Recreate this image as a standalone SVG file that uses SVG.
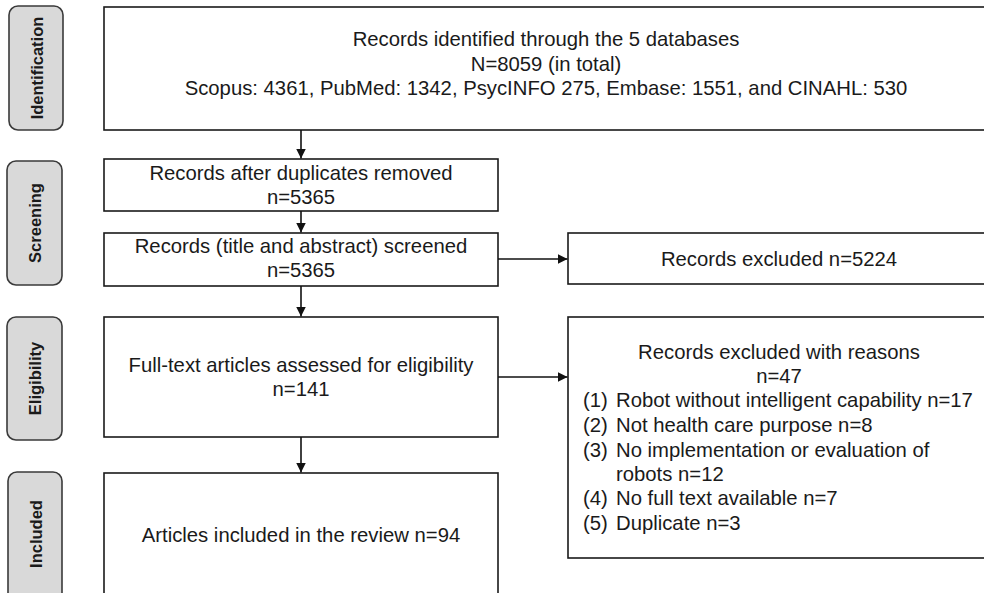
<svg xmlns="http://www.w3.org/2000/svg" width="984" height="593" viewBox="0 0 984 593">
  <defs>
    <marker id="arrow" viewBox="0 0 10 10" refX="10" refY="5" markerWidth="10" markerHeight="10" markerUnits="userSpaceOnUse" orient="auto">
      <path d="M0,0 L10,5 L0,10 Z" fill="#111"/>
    </marker>
    <style>
      .box { fill: #fff; stroke: #1a1a1a; stroke-width: 1.6; }
      .phase { fill: #d9d9d9; stroke: #3a3a3a; stroke-width: 1.6; }
      .txt { font-family: "Liberation Sans", Arial, sans-serif; font-size: 20.3px; fill: #1a1a1a; }
      .mid { text-anchor: middle; }
      .ptxt { font-family: "Liberation Sans", Arial, sans-serif; font-size: 16.5px; font-weight: bold; fill: #1a1a1a; text-anchor: middle; }
      .conn { stroke: #111; stroke-width: 1.6; fill: none; marker-end: url(#arrow); }
    </style>
  </defs>

  <rect width="984" height="593" fill="#fff"/>

  <!-- phase labels on the left -->
  <g id="phase-identification">
    <rect class="phase" x="9" y="6" width="54" height="124" rx="9"/>
    <text class="ptxt" transform="translate(42.5,68) rotate(-90)">Identification</text>
  </g>
  <g id="phase-screening">
    <rect class="phase" x="7" y="161" width="55" height="124" rx="9"/>
    <text class="ptxt" transform="translate(41,223) rotate(-90)">Screening</text>
  </g>
  <g id="phase-eligibility">
    <rect class="phase" x="7" y="317" width="55" height="123" rx="9"/>
    <text class="ptxt" transform="translate(41,378.5) rotate(-90)">Eligibility</text>
  </g>
  <g id="phase-included">
    <rect class="phase" x="8" y="472" width="54" height="130" rx="9"/>
    <text class="ptxt" transform="translate(41.5,534) rotate(-90)">Included</text>
  </g>

  <!-- flow boxes -->
  <g id="identified">
    <rect class="box" x="104" y="7" width="886" height="123"/>
    <text class="txt mid" x="546" y="46">Records identified through the 5 databases</text>
    <text class="txt mid" x="546" y="70.5">N=8059 (in total)</text>
    <text class="txt mid" x="546" y="95">Scopus: 4361, PubMed: 1342, PsycINFO 275, Embase: 1551, and CINAHL: 530</text>
  </g>

  <g id="deduplicated">
    <rect class="box" x="104" y="159" width="394" height="52"/>
    <text class="txt mid" x="301" y="180">Records after duplicates removed</text>
    <text class="txt mid" x="301" y="204">n=5365</text>
  </g>

  <g id="screened">
    <rect class="box" x="104" y="233" width="394" height="53"/>
    <text class="txt mid" x="301" y="253">Records (title and abstract) screened</text>
    <text class="txt mid" x="301" y="277">n=5365</text>
  </g>

  <g id="excluded-screening">
    <rect class="box" x="568" y="233" width="422" height="51"/>
    <text class="txt mid" x="779" y="266">Records excluded n=5224</text>
  </g>

  <g id="assessed">
    <rect class="box" x="104" y="317" width="394" height="120"/>
    <text class="txt mid" x="301" y="372">Full-text articles assessed for eligibility</text>
    <text class="txt mid" x="301" y="396">n=141</text>
  </g>

  <g id="excluded-reasons">
    <rect class="box" x="568" y="317" width="422" height="241"/>
    <text class="txt mid" x="779" y="359">Records excluded with reasons</text>
    <text class="txt mid" x="779" y="383">n=47</text>
    <text class="txt" x="583" y="407">(1)</text>
    <text class="txt" x="616" y="407">Robot without intelligent capability n=17</text>
    <text class="txt" x="583" y="432">(2)</text>
    <text class="txt" x="616" y="432">Not health care purpose n=8</text>
    <text class="txt" x="583" y="457">(3)</text>
    <text class="txt" x="616" y="457">No implementation or evaluation of</text>
    <text class="txt" x="616" y="481">robots n=12</text>
    <text class="txt" x="583" y="505">(4)</text>
    <text class="txt" x="616" y="505">No full text available n=7</text>
    <text class="txt" x="583" y="530">(5)</text>
    <text class="txt" x="616" y="530">Duplicate n=3</text>
  </g>

  <g id="included">
    <rect class="box" x="104" y="473" width="394" height="130"/>
    <text class="txt mid" x="301" y="542">Articles included in the review n=94</text>
  </g>

  <!-- connectors -->
  <g id="connectors">
    <line class="conn" x1="301" y1="130" x2="301" y2="158.5"/>
    <line class="conn" x1="301" y1="211" x2="301" y2="232.5"/>
    <line class="conn" x1="301" y1="286" x2="301" y2="316.5"/>
    <line class="conn" x1="301" y1="437" x2="301" y2="472.5"/>
    <line class="conn" x1="498" y1="259" x2="567.5" y2="259"/>
    <line class="conn" x1="498" y1="377" x2="567.5" y2="377"/>
  </g>
</svg>
